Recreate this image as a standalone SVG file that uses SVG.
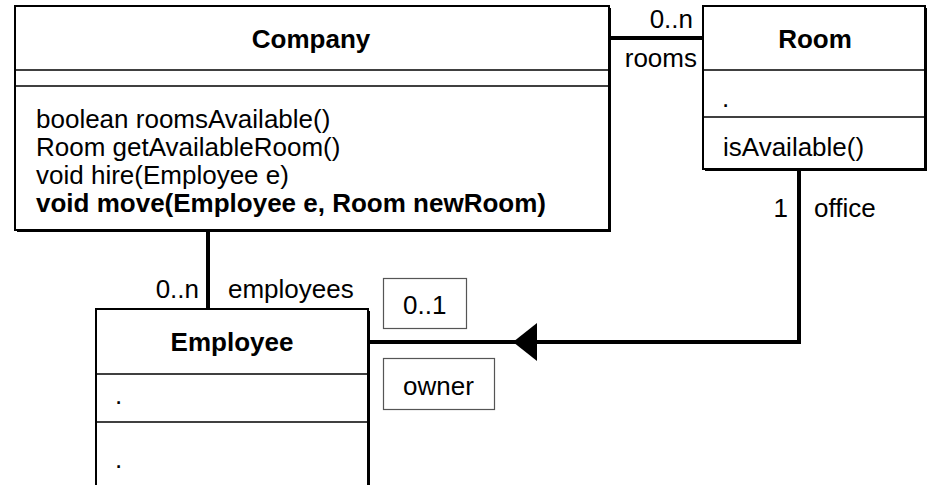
<svg xmlns="http://www.w3.org/2000/svg" width="928" height="485" viewBox="0 0 928 485">
  <style>
    text { font-family: "Liberation Sans", Arial, sans-serif; font-size: 26px; fill: #000; }
    .title { font-weight: bold; text-anchor: middle; }
    .bold { font-weight: bold; }
    .end { text-anchor: end; }
    .box { fill: #fff; stroke: #000; stroke-width: 2; }
    .shadow { fill: #000; }
    .sep { stroke: #000; stroke-width: 1.6; }
    .tag { fill: #fff; stroke: #555; stroke-width: 1.2; }
    .link { fill: none; stroke: #000; stroke-width: 4; }
  </style>

  <!-- class Company -->
  <g id="company">
    <rect class="shadow" x="17" y="8" width="594" height="224"/>
    <rect class="box" x="15" y="6" width="594" height="224"/>
    <line class="sep" x1="15" y1="70" x2="609" y2="70"/>
    <line class="sep" x1="15" y1="86" x2="609" y2="86"/>
    <text class="title" x="311" y="48">Company</text>
    <text x="36" y="128">boolean roomsAvailable()</text>
    <text x="36" y="156">Room getAvailableRoom()</text>
    <text x="36" y="184">void hire(Employee e)</text>
    <text class="bold" x="36" y="212">void move(Employee e, Room newRoom)</text>
  </g>

  <!-- class Room -->
  <g id="room">
    <rect class="shadow" x="705" y="8" width="222" height="163"/>
    <rect class="box" x="703" y="6" width="222" height="163"/>
    <line class="sep" x1="703" y1="70" x2="925" y2="70"/>
    <line class="sep" x1="703" y1="117" x2="925" y2="117"/>
    <text class="title" x="815" y="48">Room</text>
    <text x="722" y="107">.</text>
    <text x="723" y="156">isAvailable()</text>
  </g>

  <!-- class Employee -->
  <g id="employee">
    <rect class="shadow" x="98" y="311" width="272" height="200"/>
    <rect class="box" x="96" y="309" width="272" height="200"/>
    <line class="sep" x1="96" y1="374" x2="368" y2="374"/>
    <line class="sep" x1="96" y1="422" x2="368" y2="422"/>
    <text class="title" x="232" y="351">Employee</text>
    <text x="115" y="404">.</text>
    <text x="115" y="468">.</text>
  </g>

  <!-- associations -->
  <g id="connectors">
    <line class="link" x1="611" y1="38" x2="703" y2="38"/>
    <line class="link" x1="208" y1="232" x2="208" y2="309"/>
    <polyline class="link" points="799,171 799,342 370,342"/>
    <polygon points="513,342 537,323 537,361" fill="#000"/>
  </g>

  <!-- role and multiplicity labels -->
  <g id="labels">
    <text class="end" x="693" y="28">0..n</text>
    <text class="end" x="697" y="67">rooms</text>
    <text class="end" x="788" y="217">1</text>
    <text x="814" y="217">office</text>
    <text class="end" x="199" y="298">0..n</text>
    <text x="228" y="298">employees</text>
  </g>

  <g id="tag-multiplicity">
    <rect class="tag" x="383.5" y="278.5" width="83" height="50"/>
    <text x="403" y="314">0..1</text>
  </g>
  <g id="tag-role">
    <rect class="tag" x="383.5" y="358.5" width="111" height="51"/>
    <text x="403" y="395">owner</text>
  </g>
</svg>
